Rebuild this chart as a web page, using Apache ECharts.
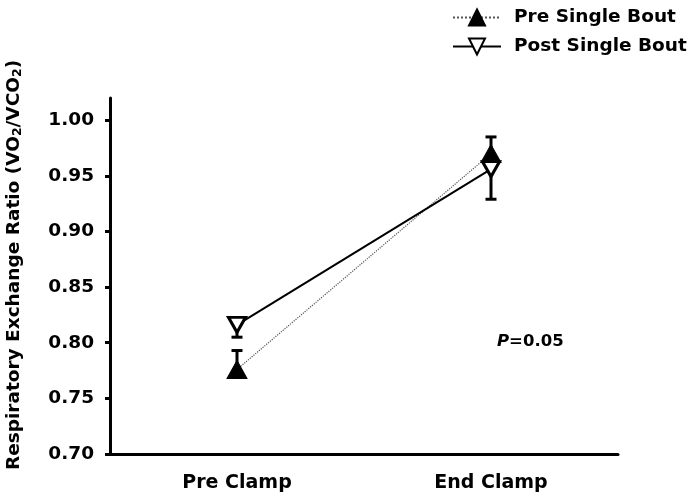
<!DOCTYPE html>
<html>
<head>
<meta charset="utf-8">
<script src="https://cdn.jsdelivr.net/npm/echarts@6/dist/echarts.min.js"></script>
<style>html,body{margin:0;padding:0;background:#fff;}#c{width:698px;height:502px;}</style>
</head>
<body>
<div id="c"></div>
<script>
const categories = ['Pre Clamp', 'End Clamp'];
const preSingle = [0.776, 0.970];
const preSingleErr = [0.017, 0.015];
const postSingle = [0.816, 0.956];
const postSingleErr = [0.011, 0.027];
const yTicks = [0.70, 0.75, 0.80, 0.85, 0.90, 0.95, 1.00];

const chart = echarts.init(document.getElementById('c'));
const font = 'DejaVu Sans, sans-serif';

function errItem(sign, errs, vals) {
  return function (params, api) {
    const i = params.dataIndex;
    const x = api.value(0), v = vals[i], e = errs[i];
    const p0 = api.coord([x, v]);
    const p1 = api.coord([x, v + sign * e]);
    const cap = 5.5;
    return {
      type: 'group',
      children: [
        { type: 'line', shape: { x1: p0[0], y1: p0[1], x2: p1[0], y2: p1[1] }, style: { stroke: '#000', lineWidth: 3 } },
        { type: 'line', shape: { x1: p1[0] - cap, y1: p1[1], x2: p1[0] + cap, y2: p1[1] }, style: { stroke: '#000', lineWidth: 3 } }
      ]
    };
  };
}

chart.setOption({
  animation: false,
  textStyle: { fontFamily: font },
  grid: { left: 110, right: 80, top: 98, bottom: 48, outerBoundsMode: 'none', containLabel: false },
  legend: {
    orient: 'vertical', left: 452, top: 8, padding: 0, itemWidth: 48, itemHeight: 20, itemGap: 10,
    data: ['Pre Single Bout', 'Post Single Bout'],
    textStyle: { fontFamily: font, fontWeight: 'bold', fontSize: 18.5, color: '#000', padding: [0, 0, 0, 8] }
  },
  xAxis: {
    type: 'category', data: categories, boundaryGap: true,
    axisLine: { lineStyle: { color: '#000', width: 3 } },
    axisTick: { alignWithLabel: true, length: 5, lineStyle: { color: '#000', width: 3 } },
    axisLabel: { color: '#000', fontWeight: 'bold', fontSize: 19, margin: 20, fontFamily: font }
  },
  yAxis: {
    type: 'value', min: 0.70, max: 1.02,
    splitLine: { show: false },
    axisLine: { show: true, lineStyle: { color: '#000', width: 3 } },
    axisTick: { show: true, length: 5, customValues: yTicks, lineStyle: { color: '#000', width: 3 } },
    axisLabel: { customValues: yTicks, color: '#000', fontWeight: 'bold', fontSize: 18.5, margin: 16, fontFamily: font,
      formatter: v => v.toFixed(2) },
    name: 'Respiratory Exchange Ratio (VO{sub|2}/VCO{sub|2})',
    nameLocation: 'middle', nameGap: 86,
    nameTextStyle: { color: '#000', fontWeight: 'bold', fontSize: 18.5, fontFamily: font, padding: [0, 0, 0, 22],
      rich: { sub: { fontSize: 12.5, fontWeight: 'bold', color: '#000', fontFamily: font, verticalAlign: 'bottom', padding: [7, 0, 0, 0] } } }
  },
  graphic: [{
    type: 'text', left: 497, top: 333,
    style: { text: '{i|P}{n|=0.05}', rich: {
      i: { fontStyle: 'italic', fontWeight: 'bold', fontSize: 16.5, fontFamily: font, fill: '#000' },
      n: { fontWeight: 'bold', fontSize: 16.5, fontFamily: font, fill: '#000' } } }
  }],
  series: [
    { type: 'custom', name: 'errPre', z: 1, renderItem: errItem(1, preSingleErr, preSingle),
      data: categories.map((c, i) => [i, preSingle[i]]) },
    { type: 'custom', name: 'errPost', z: 1, renderItem: errItem(-1, postSingleErr, postSingle),
      data: categories.map((c, i) => [i, postSingle[i]]) },
    { type: 'line', name: 'Pre Single Bout', z: 3, data: preSingle,
      symbol: 'triangle', symbolSize: [20, 18], showAllSymbol: true,
      lineStyle: { color: '#555', width: 1.2, type: 'dotted' },
      itemStyle: { color: '#000', borderColor: '#000', borderWidth: 1 } },
    { type: 'line', name: 'Post Single Bout', z: 4, data: postSingle,
      symbol: 'triangle', symbolRotate: 180, symbolSize: [17, 15], showAllSymbol: true,
      lineStyle: { color: '#000', width: 2, type: 'solid' },
      itemStyle: { color: '#fff', borderColor: '#000', borderWidth: 3 } }
  ]
});
</script>
</body>
</html>
